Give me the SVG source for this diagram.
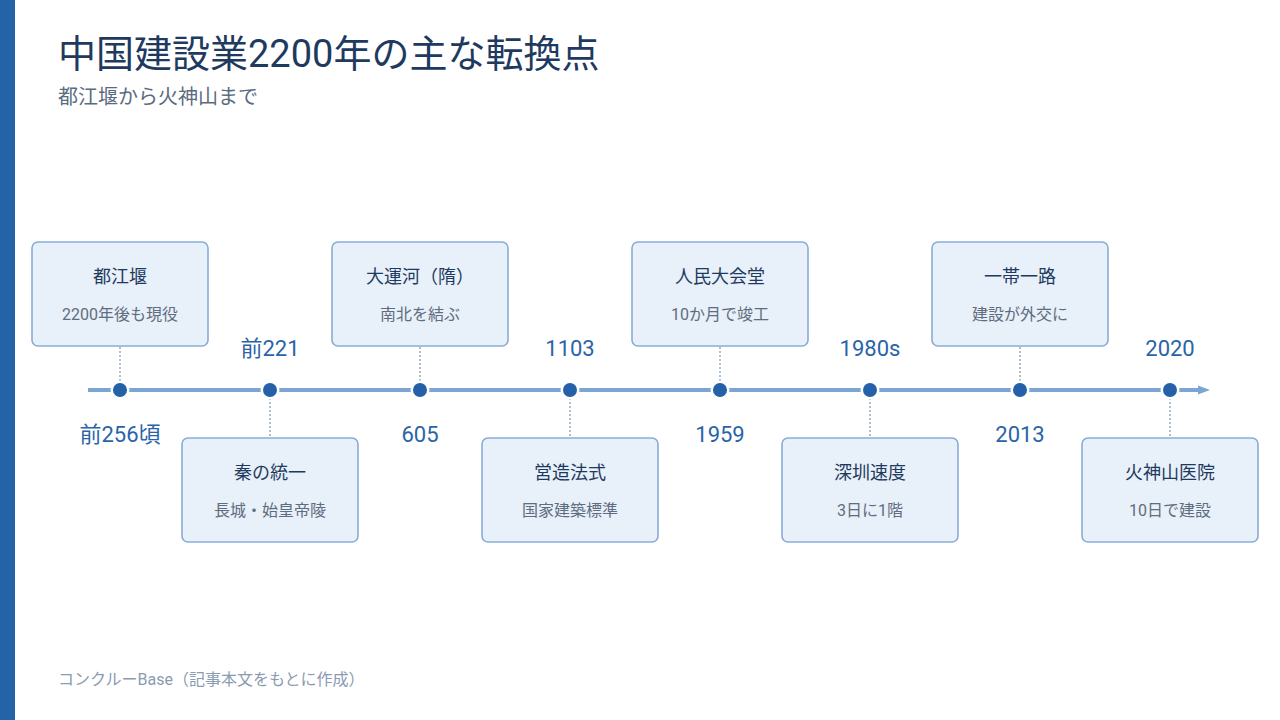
<svg xmlns="http://www.w3.org/2000/svg" width="1280" height="720" viewBox="0 0 1280 720">
<style>
text{font-family:Roboto,"Noto Sans CJK JP",sans-serif;}
.title{font-size:38px;fill:#1f3a5f;}
.sub{font-size:20px;fill:#5a6b80;}
.foot{font-size:16px;fill:#8b9bb1;}
.box{fill:#e8f0f9;stroke:#89acd6;stroke-width:1.6;}
.bt{font-size:18px;fill:#1f3a5f;text-anchor:middle;}
.bs{font-size:16px;fill:#5f6d80;text-anchor:middle;}
.date{font-size:22px;fill:#2a64a8;text-anchor:middle;}
.dot{fill:#2461a8;stroke:#ffffff;stroke-width:2.5;}
.stem{stroke:#96a8c0;stroke-width:1.5;stroke-dasharray:2 2;fill:none;}
</style>
<rect x="0" y="0" width="1280" height="720" fill="#ffffff"/>
<rect x="0" y="0" width="15" height="720" fill="#2563a8"/>
<text class="title" x="58" y="67">中国建設業2200年の主な転換点</text>
<text class="sub" x="58" y="104">都江堰から火神山まで</text>
<text class="foot" x="58" y="685">コンクルーBase（記事本文をもとに作成）</text>

<g id="connectors">
<line x1="88" y1="390" x2="1200" y2="390" stroke="#7ba6d4" stroke-width="4"/>
<polygon points="1198,385.5 1210,390 1198,394.5" fill="#7ba6d4"/>
<line class="stem" x1="120" y1="347" x2="120" y2="382"/>
<line class="stem" x1="270" y1="398" x2="270" y2="437"/>
<line class="stem" x1="420" y1="347" x2="420" y2="382"/>
<line class="stem" x1="570" y1="398" x2="570" y2="437"/>
<line class="stem" x1="720" y1="347" x2="720" y2="382"/>
<line class="stem" x1="870" y1="398" x2="870" y2="437"/>
<line class="stem" x1="1020" y1="347" x2="1020" y2="382"/>
<line class="stem" x1="1170" y1="398" x2="1170" y2="437"/>
</g>

<g id="n1">
<rect class="box" x="32" y="242" width="176" height="104" rx="6"/>
<text class="bt" x="120" y="283">都江堰</text>
<text class="bs" x="120" y="320">2200年後も現役</text>
<circle class="dot" cx="120" cy="390" r="8.25"/>
<text class="date" x="120" y="442">前256頃</text>
</g>
<g id="n2">
<rect class="box" x="182" y="438" width="176" height="104" rx="6"/>
<text class="bt" x="270" y="479">秦の統一</text>
<text class="bs" x="270" y="516">長城・始皇帝陵</text>
<circle class="dot" cx="270" cy="390" r="8.25"/>
<text class="date" x="270" y="356">前221</text>
</g>
<g id="n3">
<rect class="box" x="332" y="242" width="176" height="104" rx="6"/>
<text class="bt" x="420" y="283">大運河（隋）</text>
<text class="bs" x="420" y="320">南北を結ぶ</text>
<circle class="dot" cx="420" cy="390" r="8.25"/>
<text class="date" x="420" y="442">605</text>
</g>
<g id="n4">
<rect class="box" x="482" y="438" width="176" height="104" rx="6"/>
<text class="bt" x="570" y="479">営造法式</text>
<text class="bs" x="570" y="516">国家建築標準</text>
<circle class="dot" cx="570" cy="390" r="8.25"/>
<text class="date" x="570" y="356">1103</text>
</g>
<g id="n5">
<rect class="box" x="632" y="242" width="176" height="104" rx="6"/>
<text class="bt" x="720" y="283">人民大会堂</text>
<text class="bs" x="720" y="320">10か月で竣工</text>
<circle class="dot" cx="720" cy="390" r="8.25"/>
<text class="date" x="720" y="442">1959</text>
</g>
<g id="n6">
<rect class="box" x="782" y="438" width="176" height="104" rx="6"/>
<text class="bt" x="870" y="479">深圳速度</text>
<text class="bs" x="870" y="516">3日に1階</text>
<circle class="dot" cx="870" cy="390" r="8.25"/>
<text class="date" x="870" y="356">1980s</text>
</g>
<g id="n7">
<rect class="box" x="932" y="242" width="176" height="104" rx="6"/>
<text class="bt" x="1020" y="283">一帯一路</text>
<text class="bs" x="1020" y="320">建設が外交に</text>
<circle class="dot" cx="1020" cy="390" r="8.25"/>
<text class="date" x="1020" y="442">2013</text>
</g>
<g id="n8">
<rect class="box" x="1082" y="438" width="176" height="104" rx="6"/>
<text class="bt" x="1170" y="479">火神山医院</text>
<text class="bs" x="1170" y="516">10日で建設</text>
<circle class="dot" cx="1170" cy="390" r="8.25"/>
<text class="date" x="1170" y="356">2020</text>
</g>
</svg>
